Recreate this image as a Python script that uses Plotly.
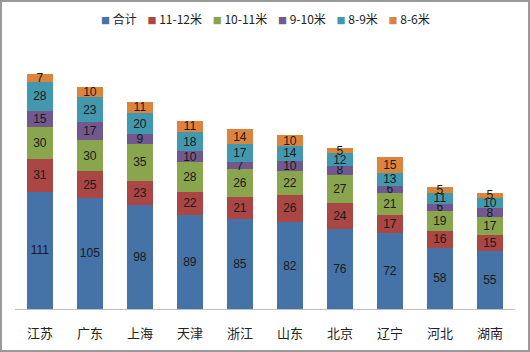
import plotly.graph_objects as go

categories = ["江苏", "广东", "上海", "天津", "浙江", "山东", "北京", "辽宁", "河北", "湖南"]
series_names = ["合计", "11-12米", "10-11米", "9-10米", "8-9米", "8-6米"]
v_total = [111, 105, 98, 89, 85, 82, 76, 72, 58, 55]
v_11_12 = [31, 25, 23, 22, 21, 26, 24, 17, 16, 15]
v_10_11 = [30, 30, 35, 28, 26, 22, 27, 21, 19, 17]
v_9_10 = [15, 17, 9, 10, 7, 10, 8, 6, 6, 8]
v_8_9 = [28, 23, 20, 18, 17, 14, 12, 13, 11, 10]
v_8_6 = [7, 10, 11, 11, 14, 10, 5, 15, 5, 5]
colors = ["#4572A7", "#AA4643", "#89A54E", "#71588F", "#4198AF", "#DB843D"]

all_series = [v_total, v_11_12, v_10_11, v_9_10, v_8_9, v_8_6]

fig = go.Figure()
for name, vals, col in zip(series_names, all_series, colors):
    fig.add_trace(go.Bar(
        x=categories, y=vals, name=name,
        marker=dict(color=col, line=dict(width=0)),
        text=vals, textposition="inside", insidetextanchor="middle",
        textangle=0, constraintext="none",
        textfont=dict(size=12, color="#1a1a1a", family="Liberation Sans, Noto Sans CJK SC"),
    ))

W, H = 530, 352
l, r, t, b = 15, 15, 60, 43
pw, ph = W - l - r, H - t - b

legend_parts = []
for name, col in zip(series_names, colors):
    legend_parts.append(
        f"<span style='color:{col};font-size:9px'>■</span> {name}"
    )
legend_text = "&nbsp;&nbsp;&nbsp;&nbsp;".join(legend_parts)

fig.update_layout(
    width=W, height=H, barmode="stack", bargap=0.48,
    margin=dict(l=l, r=r, t=t, b=b, autoexpand=False),
    paper_bgcolor="white", plot_bgcolor="white",
    font=dict(family="Noto Sans CJK SC, sans-serif", size=12, color="#222"),
    uniformtext=dict(minsize=12, mode="show"),
    showlegend=False,
    annotations=[dict(text=legend_text, xref="paper", yref="paper",
                      x=0.5, y=1 + 41 / ph, xanchor="center", yanchor="middle",
                      showarrow=False, font=dict(size=12, color="#222"))],
    xaxis=dict(showline=True, linecolor="#BFBFBF", linewidth=1, ticks="",
               ticklabelstandoff=12,
               tickfont=dict(size=13, color="#222"), fixedrange=True),
    yaxis=dict(range=[0, ph / 1.058], visible=False, showgrid=False, zeroline=False),
    shapes=[dict(type="rect", xref="paper", yref="paper",
                 x0=(1 - l) / pw, x1=1 + (r - 1) / pw,
                 y0=-(b - 1) / ph, y1=1 + (t - 1) / ph,
                 line=dict(color="#9a9a9a", width=2), fillcolor="rgba(0,0,0,0)", layer="below")],
)

fig.write_html("out.html")
